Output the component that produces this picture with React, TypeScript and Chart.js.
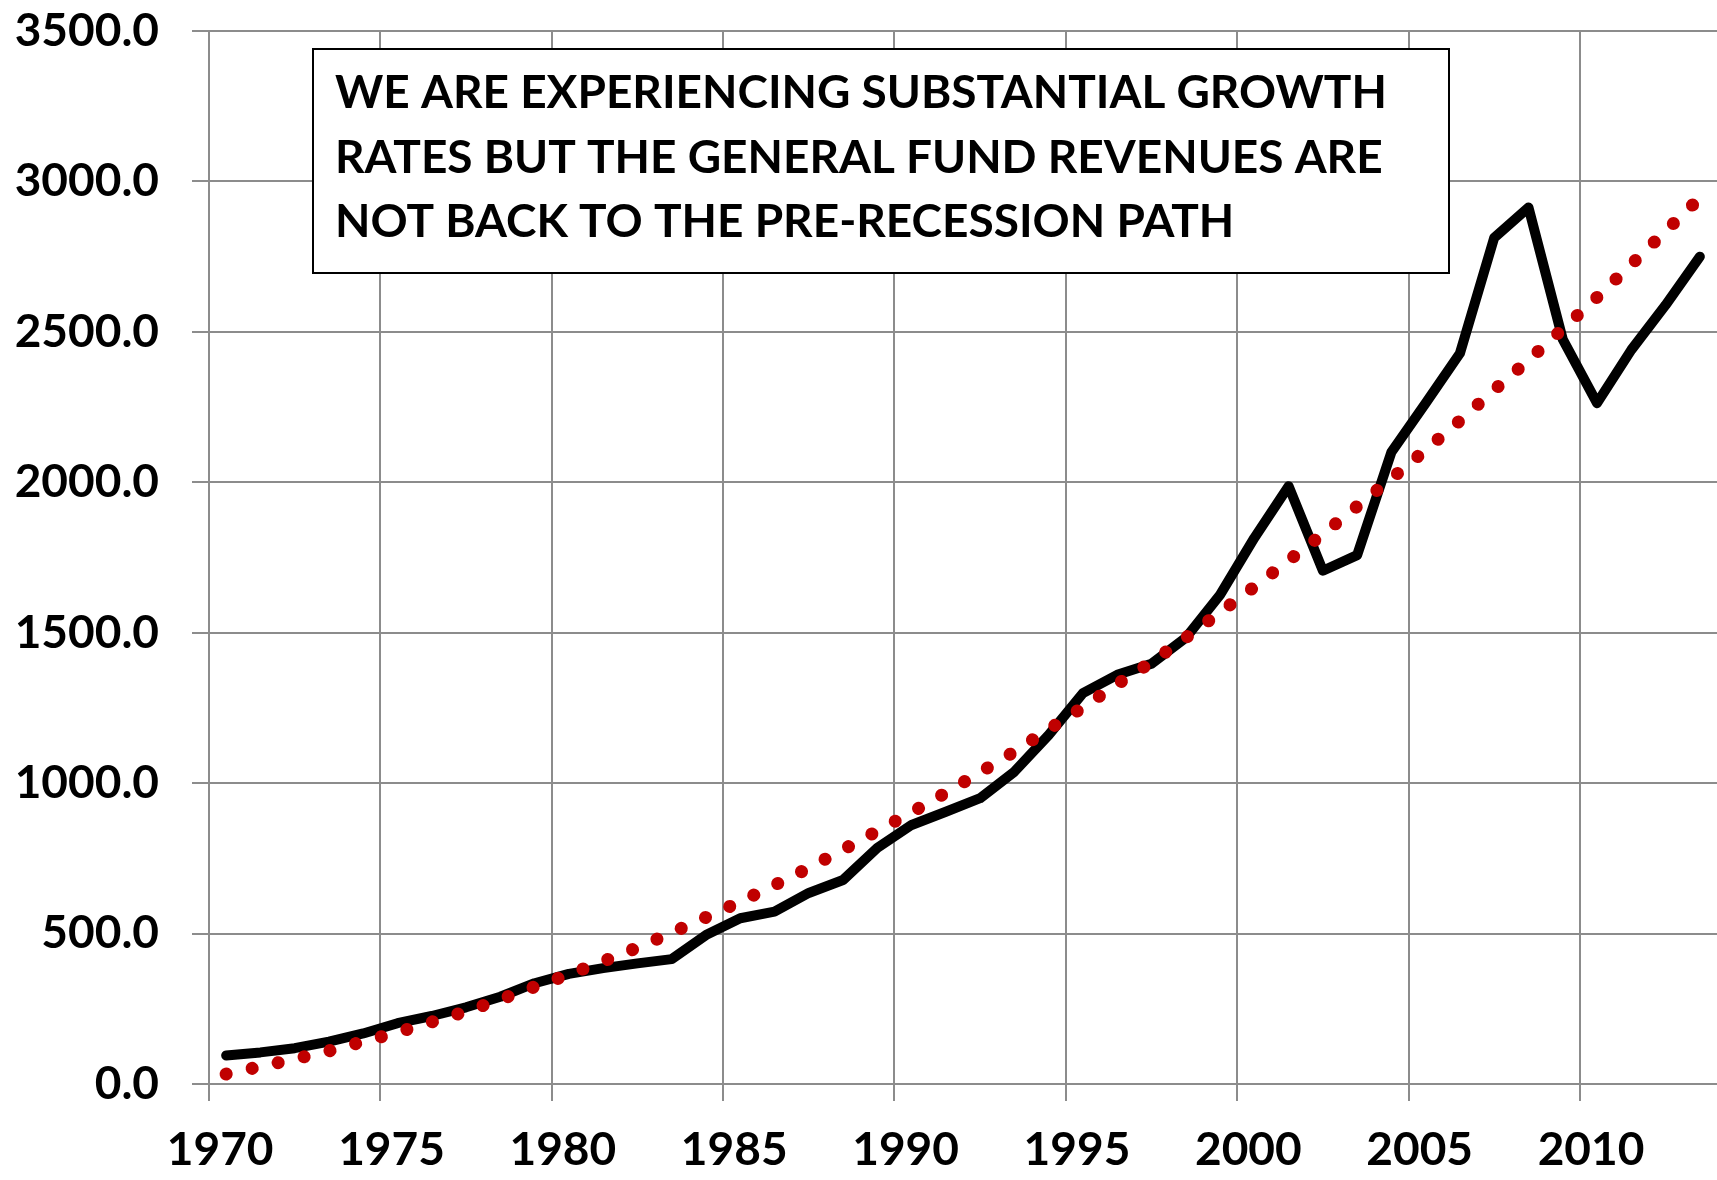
import React, { useEffect, useRef } from "react";
import { Chart, registerables } from "chart.js";

Chart.register(...registerables);

const YEARS = [
  "1970", "1971", "1972", "1973", "1974", "1975", "1976", "1977", "1978", "1979",
  "1980", "1981", "1982", "1983", "1984", "1985", "1986", "1987", "1988", "1989",
  "1990", "1991", "1992", "1993", "1994", "1995", "1996", "1997", "1998", "1999",
  "2000", "2001", "2002", "2003", "2004", "2005", "2006", "2007", "2008", "2009",
  "2010", "2011", "2012", "2013",
];

const REVENUES = [
  95, 105, 119, 141, 168, 202, 226, 255, 290, 335,
  366, 385, 401, 415, 495, 551, 573, 635, 678, 785,
  861, 905, 950, 1038, 1160, 1299, 1360, 1397, 1483, 1626,
  1815, 1987, 1706, 1758, 2100, 2263, 2429, 2813, 2913, 2475,
  2263, 2440, 2589, 2750,
];

const PRE_RECESSION_PATH = [
  33, 58, 83, 110, 141, 172, 206, 241, 281, 323,
  364, 408, 453, 503, 554, 606, 661, 718, 779, 841,
  903, 968, 1036, 1105, 1179, 1252, 1329, 1402, 1483, 1568,
  1652, 1740, 1828, 1920, 2012, 2108, 2205, 2307, 2406, 2510,
  2615, 2724, 2835, 2945,
];

const Y_MIN = 0;
const Y_MAX = 3500;
const Y_STEP = 500;
const X_LABEL_EVERY = 5;

const TITLE_LINES = [
  "WE ARE EXPERIENCING SUBSTANTIAL GROWTH",
  "RATES BUT THE GENERAL FUND REVENUES ARE",
  "NOT BACK TO THE PRE-RECESSION PATH",
];

const FONT_FAMILY = "Lato, 'Open Sans', sans-serif";
const FONT_SIZE = 46;
const GRID_COLOR = "#8c8c8c";

const titleBoxPlugin = {
  id: "titleBox",
  afterDraw(chart: any) {
    const { ctx, chartArea } = chart;
    const x = chartArea.left + 104;
    const y = chartArea.top + 18;
    const w = 1136;
    const h = 224;
    ctx.save();
    ctx.fillStyle = "#ffffff";
    ctx.fillRect(x, y, w, h);
    ctx.strokeStyle = "#000000";
    ctx.lineWidth = 2;
    ctx.strokeRect(x, y, w, h);
    ctx.fillStyle = "#000000";
    ctx.font = `bold ${FONT_SIZE}px ${FONT_FAMILY}`;
    ctx.textBaseline = "alphabetic";
    ctx.textAlign = "left";
    TITLE_LINES.forEach((line, i) => {
      ctx.fillText(line, x + 22, y + 59 + i * 64.5);
    });
    ctx.restore();
  },
};

export default function App() {
  const canvasRef = useRef<HTMLCanvasElement | null>(null);

  useEffect(() => {
    const canvas = canvasRef.current;
    if (!canvas) return;
    const isLabelled = (i: number) => Number(YEARS[i]) % X_LABEL_EVERY === 0;

    const chart = new Chart(canvas, {
      type: "line",
      data: {
        labels: YEARS,
        datasets: [
          {
            label: "Pre-recession path",
            data: PRE_RECESSION_PATH,
            borderColor: "#c00000",
            backgroundColor: "#c00000",
            borderWidth: 13,
            borderDash: [0.1, 26.5],
            borderCapStyle: "round",
            borderJoinStyle: "round",
            pointRadius: 0,
            fill: false,
            tension: 0,
            order: 0,
          },
          {
            label: "General fund revenues",
            data: REVENUES,
            borderColor: "#000000",
            backgroundColor: "#000000",
            borderWidth: 10,
            borderCapStyle: "round",
            borderJoinStyle: "round",
            pointRadius: 0,
            fill: false,
            tension: 0,
            order: 1,
          },
        ],
      },
      options: {
        responsive: false,
        animation: false,
        devicePixelRatio: 1,
        layout: { padding: { top: 31, right: 0, left: 0, bottom: 0 } },
        plugins: {
          legend: { display: false },
          tooltip: { enabled: false },
          title: { display: false },
        },
        scales: {
          x: {
            type: "category",
            offset: true,
            grid: {
              offset: true,
              drawTicks: true,
              tickLength: 17,
              lineWidth: 2,
              color: (ctx: any) =>
                ctx.type === "tick" && isLabelled(ctx.index) ? GRID_COLOR : "rgba(0,0,0,0)",
            },
            border: { display: false },
            ticks: {
              autoSkip: false,
              maxRotation: 0,
              minRotation: 0,
              padding: 22,
              labelOffset: -6,
              color: "#000000",
              font: { family: FONT_FAMILY, size: FONT_SIZE, weight: "bold" },
              callback: (_v: any, i: number) => (isLabelled(i) ? YEARS[i] : ""),
            },
            afterFit: (scale: any) => {
              scale.height = 96;
              scale.paddingLeft = 0;
              scale.paddingRight = 0;
            },
          },
          y: {
            min: Y_MIN,
            max: Y_MAX,
            grid: {
              drawTicks: true,
              tickLength: 17,
              lineWidth: 2,
              color: GRID_COLOR,
            },
            border: { display: false },
            ticks: {
              stepSize: Y_STEP,
              padding: 33,
              color: "#000000",
              font: { family: FONT_FAMILY, size: FONT_SIZE, weight: "bold" },
              callback: (v: any) => Number(v).toFixed(1),
            },
            afterFit: (scale: any) => {
              scale.width = 209;
              scale.paddingTop = 0;
              scale.paddingBottom = 0;
            },
          },
        },
      },
      plugins: [titleBoxPlugin],
    });

    return () => chart.destroy();
  }, []);

  return (
    <div style={{ position: "absolute", left: 0, top: 0, width: 1717, height: 1180, background: "#ffffff" }}>
      <canvas ref={canvasRef} width={1717} height={1180} style={{ display: "block", width: 1717, height: 1180 }} />
    </div>
  );
}
